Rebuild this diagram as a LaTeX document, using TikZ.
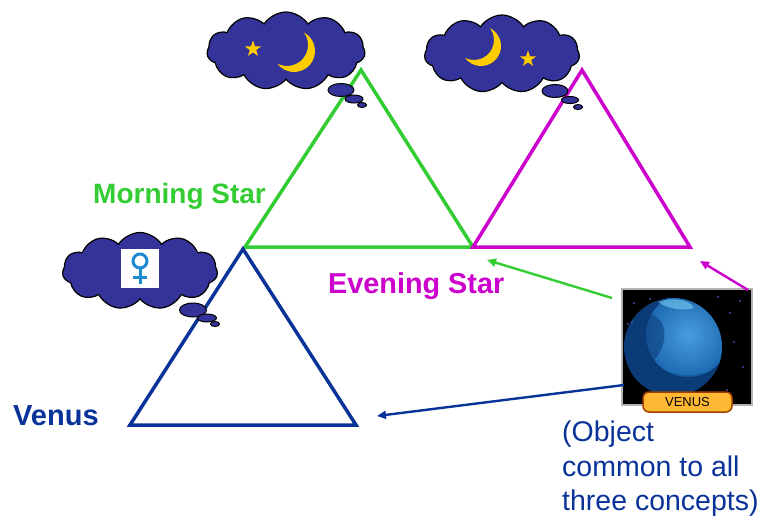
\documentclass[tikz,border=0pt]{standalone}
\usepackage{fontspec}
\setmainfont{Liberation Sans}
\usetikzlibrary{shapes.symbols,shapes.geometric,arrows.meta}
\definecolor{mgreen}{HTML}{33CC33}
\definecolor{mmag}{HTML}{CC00CC}
\definecolor{vblue}{HTML}{0A3399}
\definecolor{cloudblue}{HTML}{333399}
\definecolor{gold}{HTML}{FFCC00}
\definecolor{symblue}{HTML}{1E8AD2}
\definecolor{pillfill}{HTML}{FFB833}
\definecolor{pilledge}{HTML}{A04000}
\definecolor{planetdark}{HTML}{0B3C78}
\definecolor{planetmid}{HTML}{1F6FB8}
\definecolor{planetlight}{HTML}{4FA8E8}

\begin{document}
\begin{tikzpicture}[x=1pt,y=-1pt,
  tri/.style={line width=3.5pt, line join=miter},
  link/.style={line width=2.4pt, -{Triangle[length=9pt,width=8pt]}},
  thought/.style={cloud, cloud puffs=11, cloud puff arc=115, draw=black, line width=1.2pt,
                  fill=cloudblue, inner sep=0pt},
  bubble/.style={ellipse, draw=black, line width=1pt, fill=cloudblue, inner sep=0pt},
  title/.style={font=\bfseries\fontsize{28}{30}\selectfont, anchor=base west, inner sep=0pt},
  goldstar/.style={star, star points=5, star point ratio=2.5, fill=gold, inner sep=0pt,
                   minimum size=17pt},
]
\useasboundingbox (0,0) rectangle (766,517);

% triangle corners
\coordinate (g1) at (361,70);
\coordinate (g2) at (245,247);
\coordinate (g3) at (473,247);
\coordinate (m1) at (582,70);
\coordinate (m2) at (473,247);
\coordinate (m3) at (690,247);
\coordinate (b1) at (243,249);
\coordinate (b2) at (130,425);
\coordinate (b3) at (356,425);

% the three concept triangles
\draw[tri, mgreen] (g1) -- (g2) -- (g3) -- cycle;
\draw[tri, mmag] (m1) -- (m2) -- (m3) -- cycle;
\draw[tri, vblue] (b1) -- (b2) -- (b3) -- cycle;

% thought clouds
\node[thought, minimum width=158pt, minimum height=78pt] (cloudA) at (286,51) {};
\node[bubble, minimum width=26pt, minimum height=13pt] (bubA1) at (341,90) {};
\node[bubble, minimum width=18pt, minimum height=8pt] (bubA2) at (354,99) {};
\node[bubble, minimum width=9pt, minimum height=5pt] (bubA3) at (362,105) {};

\node[thought, minimum width=155pt, minimum height=78pt] (cloudB) at (502,54) {};
\node[bubble, minimum width=26pt, minimum height=13pt] (bubB1) at (555,91) {};
\node[bubble, minimum width=17pt, minimum height=7pt] (bubB2) at (570,100) {};
\node[bubble, minimum width=9pt, minimum height=5pt] (bubB3) at (578,107) {};

\node[thought, minimum width=155pt, minimum height=77pt] (cloudC) at (140,271) {};
\node[bubble, minimum width=27pt, minimum height=14pt] (bubC1) at (193,310) {};
\node[bubble, minimum width=19pt, minimum height=8pt] (bubC2) at (207,318) {};
\node[bubble, minimum width=9pt, minimum height=5pt] (bubC3) at (215,324) {};

% star and thin crescent moon of the first cloud
\node[goldstar] (starA) at (253,49) {};
\fill[gold] (303.8,32.4) arc[start angle=-62.2, end angle=143.1, radius=21]
                         arc[start angle=117.8, end angle=-36.9, radius=21] -- cycle;

% thin crescent moon and star of the second cloud
\fill[gold] (490.2,28.2) arc[start angle=-62.7, end angle=143.9, radius=20]
                         arc[start angle=117.3, end angle=-36.1, radius=20] -- cycle;
\node[goldstar] (starB) at (528,59) {};

% Venus sign in the third cloud
\node[fill=white, minimum width=38pt, minimum height=39pt, inner sep=0pt] (signbox) at (140,268.5) {};
\draw[symblue, line width=3pt] (140,261) circle (7pt);
\draw[symblue, line width=3pt] (140,268) -- (140,284);
\draw[symblue, line width=3pt] (133,277) -- (147,277);

% picture of the planet
\node[draw=gray!60, line width=1.6pt, fill=black, minimum width=130pt, minimum height=116pt,
      inner sep=0pt, anchor=north west] (planetpic) at (621,288) {};
\begin{scope}
  \clip (623,290) rectangle (750,403);
  \fill[planetdark] (673,347) circle (49pt);
  \begin{scope}
    \clip (673,347) circle (49pt);
    \shade[inner color=planetlight, outer color=planetmid, opacity=0.9] (688,335) circle (42pt);
    \fill[planetdark, opacity=0.55] (632,320) .. controls (648,305) and (668,318) .. (664,340)
          .. controls (660,362) and (642,372) .. (630,355) -- cycle;
    \fill[planetdark, opacity=0.4] (650,365) .. controls (665,372) and (690,380) .. (705,372)
          .. controls (690,392) and (660,395) .. cycle;
    \fill[cyan!50!white, opacity=0.55] (658,302) .. controls (670,297) and (690,299) .. (694,308)
          .. controls (682,311) and (668,309) .. cycle;
  \end{scope}
  \foreach \px/\py in {634/303,650/299,718/297,740/301,730/313,628/324,734/342,743/367,727/390,632/322}
    \fill[blue!60!white] (\px,\py) circle (0.9pt);
\end{scope}
\node[rounded corners=6pt, fill=pillfill, draw=pilledge, line width=1.5pt, minimum width=89pt,
      minimum height=20pt, inner sep=0pt, font=\fontsize{13}{13}\selectfont] (plabel) at (687.5,402) {VENUS};

% arrows from the object to the concepts
\coordinate (gsrc) at (612,298);
\coordinate (gdst) at (487,260);
\coordinate (msrc) at (748,290);
\coordinate (mdst) at (700,261);
\coordinate (bsrc) at (624,385);
\coordinate (bdst) at (377,416);
\draw[link, mgreen] (gsrc) -- (gdst);
\draw[link, mmag] (msrc) -- (mdst);
\draw[link, vblue] (bsrc) -- (bdst);

% concept names
\node[title, text=mgreen] (morning) at (93,203) {Morning Star};
\node[title, text=mmag, font=\bfseries\fontsize{28.8}{30}\selectfont] (evening) at (328,293) {Evening Star};
\node[title, text=vblue, font=\bfseries\fontsize{29}{30}\selectfont] (venus) at (13,425) {Venus};
\node[anchor=north west, align=left, text=vblue, inner sep=0pt,
      font=\fontsize{28.5}{34.5}\selectfont] (note) at (562,421)
      {(Object\\common to all\\three concepts)};
\end{tikzpicture}
\end{document}
